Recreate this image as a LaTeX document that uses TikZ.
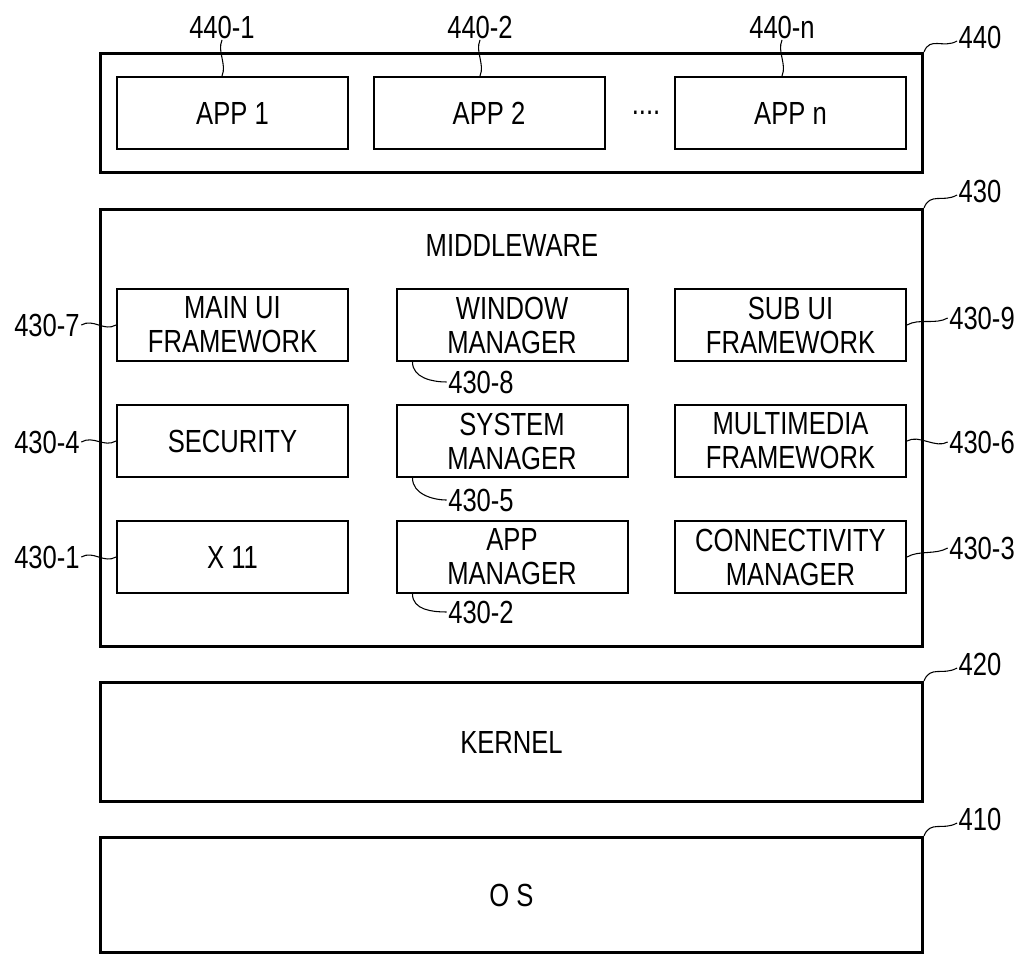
\documentclass[tikz,border=0pt]{standalone}
\usepackage{fontspec}
\setmainfont[FakeStretch=0.80]{Liberation Sans}

\begin{document}
\begin{tikzpicture}[x=0.75pt, y=-0.75pt,
  font=\fontsize{24}{25.5}\selectfont,
  layer/.style={draw, line width=2.25pt, minimum width=616.5pt, inner sep=0pt},
  unit/.style={draw, line width=1.5pt, minimum width=173.25pt, minimum height=54pt, inner sep=0pt, align=center},
  refnum/.style={inner sep=1pt},
  lead/.style={line width=0.8pt}]

\useasboundingbox (0,0) rectangle (1024,956);

% applications
\node[layer, minimum height=89.25pt] (apps) at (511.5,113) {};
\node[unit] (app1) at (232.5,113) {APP 1};
\node[unit] (app2) at (489,113) {APP 2};
\node[unit] (appn) at (790.5,113) {APP n};
\node[inner sep=0pt] (dots) at (646,113) {....};

\node[refnum] (r440a) at (222,27) {440-1};
\node[refnum] (r440b) at (480,27) {440-2};
\node[refnum] (r440n) at (782,27) {440-n};
\node[refnum] (r440) at (980,37) {440};

\draw[lead] (r440a.south) .. controls +(-5,12) and +(5,-12) .. (r440a.south |- app1.north);
\draw[lead] (r440b.south) .. controls +(-5,12) and +(5,-12) .. (r440b.south |- app2.north);
\draw[lead] (r440n.south) .. controls +(-5,12) and +(5,-12) .. (r440n.south |- appn.north);
\draw[lead] (apps.north east) .. controls +(6,-16) and +(-14,8) .. ([yshift=-3pt]r440.west);

% middleware
\node[layer, minimum height=327.75pt] (mw) at (511.5,428) {};
\node (mwtitle) at (512,245) {MIDDLEWARE};

\node[unit] (mainui) at (232.5,325) {MAIN UI\\FRAMEWORK};
\node[unit] (winmgr) at (512,325) {WINDOW\\MANAGER};
\node[unit] (subui) at (790.5,325) {SUB UI\\FRAMEWORK};
\node[unit] (security) at (232.5,441) {SECURITY};
\node[unit] (sysmgr) at (512,441) {SYSTEM\\MANAGER};
\node[unit] (multimedia) at (790.5,441) {MULTIMEDIA\\FRAMEWORK};
\node[unit] (xeleven) at (232.5,557) {X 11};
\node[unit] (appmgr) at (512,557) {APP\\MANAGER};
\node[unit] (connect) at (790.5,557) {CONNECTIVITY\\MANAGER};

\node[refnum] (r430) at (980,191) {430};
\node[refnum] (r4307) at (47,325) {430-7};
\node[refnum] (r4304) at (47,442) {430-4};
\node[refnum] (r4301) at (47,557) {430-1};
\node[refnum] (r4309) at (982,318) {430-9};
\node[refnum] (r4306) at (982,442) {430-6};
\node[refnum] (r4303) at (982,548) {430-3};
\node[refnum] (r4308) at (481,382) {430-8};
\node[refnum] (r4305) at (481,500) {430-5};
\node[refnum] (r4302) at (481,612) {430-2};

\draw[lead] (mw.north east) .. controls +(6,-16) and +(-14,8) .. ([yshift=-3pt]r430.west);
\draw[lead] (r4307.east) .. controls +(12,-7) and +(-12,7) .. (mainui.west);
\draw[lead] (r4304.east) .. controls +(12,-7) and +(-12,7) .. (security.west);
\draw[lead] (r4301.east) .. controls +(12,-7) and +(-12,7) .. (xeleven.west);
\draw[lead] (subui.east) .. controls +(12,-7) and +(-12,7) .. (r4309.west);
\draw[lead] (multimedia.east) .. controls +(12,-7) and +(-12,7) .. (r4306.west);
\draw[lead] (connect.east) .. controls +(12,-7) and +(-12,7) .. (r4303.west);
\draw[lead] ([xshift=12.75pt]winmgr.south west) .. controls +(0,16) and +(-14,0) .. (r4308.west);
\draw[lead] ([xshift=12.75pt]sysmgr.south west) .. controls +(0,16) and +(-14,0) .. (r4305.west);
\draw[lead] ([xshift=12.75pt]appmgr.south west) .. controls +(0,16) and +(-14,0) .. (r4302.west);

% kernel and os
\node[layer, minimum height=89.25pt] (kernel) at (511.5,742) {KERNEL};
\node[layer, minimum height=86.25pt] (os) at (511.5,895) {O S};
\node[refnum] (r420) at (980,664) {420};
\node[refnum] (r410) at (980,819) {410};

\draw[lead] (kernel.north east) .. controls +(6,-16) and +(-14,8) .. ([yshift=-3pt]r420.west);
\draw[lead] (os.north east) .. controls +(6,-16) and +(-14,8) .. ([yshift=-3pt]r410.west);

\end{tikzpicture}
\end{document}
